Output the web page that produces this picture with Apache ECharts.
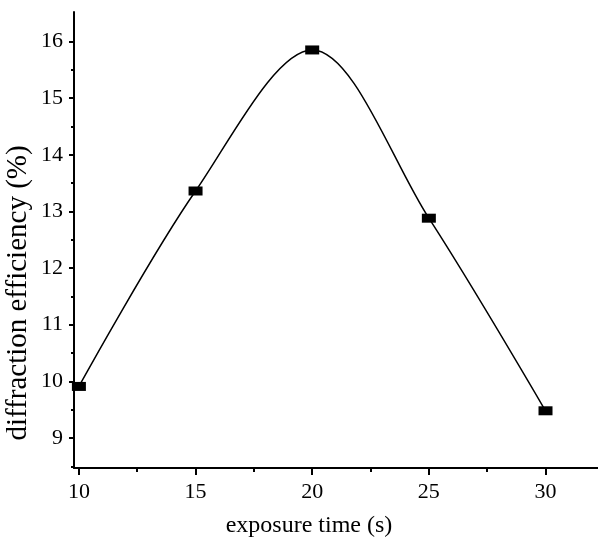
<!DOCTYPE html>
<html>
<head>
<meta charset="utf-8">
<script src="https://cdn.jsdelivr.net/npm/echarts@6/dist/echarts.min.js"></script>
<style>
  html, body { margin: 0; padding: 0; background: #fff; }
  #chart { width: 598px; height: 542px; }
</style>
</head>
<body>
<div id="chart"></div>
<script>
// exposure time (s) vs diffraction efficiency (%)
const exposureTime = [10, 15, 20, 25, 30];
const efficiency = [9.91, 13.36, 15.85, 12.88, 9.48];

const xMajorTicks = [10, 15, 20, 25, 30];
const xMinorTicks = [12.5, 17.5, 22.5, 27.5];
const yMajorTicks = [9, 10, 11, 12, 13, 14, 15, 16];
const yMinorTicks = [8.5, 9.5, 10.5, 11.5, 12.5, 13.5, 14.5, 15.5];

const FONT = '"Liberation Serif", "Times New Roman", serif';
const X_MIN = 9.79, X_MAX = 32.25;
const Y_MIN = 8.47, Y_MAX = 16.52;

const chart = echarts.init(document.getElementById('chart'));

function axisBase(extra) {
    return Object.assign({
        type: 'value',
        splitLine: { show: false },
        axisLine: { show: true, lineStyle: { color: '#000', width: 2 } },
    }, extra);
}

chart.setOption({
    animation: false,
    backgroundColor: '#fff',
    grid: { left: 74, right: 0, top: 12, bottom: 74, outerBoundsMode: 'none', containLabel: false },
    xAxis: [
        axisBase({
            position: 'bottom',
            min: X_MIN, max: X_MAX,
            name: 'exposure time (s)',
            nameLocation: 'middle',
            nameGap: 46,
            nameMoveOverlap: false,
            nameTextStyle: { fontFamily: FONT, fontSize: 24, color: '#000', padding: [0, 54, 0, 0] },
            axisTick: { show: true, customValues: xMajorTicks, length: 7, lineStyle: { color: '#000', width: 2 } },
            axisLabel: { customValues: xMajorTicks, margin: 13, fontFamily: FONT, fontSize: 22, color: '#000' },
        }),
        axisBase({
            position: 'bottom',
            min: X_MIN, max: X_MAX,
            axisLine: { show: false },
            axisTick: { show: true, customValues: xMinorTicks, length: 4, lineStyle: { color: '#000', width: 2 } },
            axisLabel: { show: false },
        }),
    ],
    yAxis: [
        axisBase({
            position: 'left',
            min: Y_MIN, max: Y_MAX,
            name: 'diffraction efficiency (%)',
            nameLocation: 'middle',
            nameRotate: 90,
            nameGap: 41,
            nameMoveOverlap: false,
            nameTextStyle: { fontFamily: FONT, fontSize: 29, color: '#000', padding: [0, 106, 0, 0] },
            axisTick: { show: true, customValues: yMajorTicks, length: 5, lineStyle: { color: '#000', width: 2 } },
            axisLabel: { customValues: yMajorTicks, margin: 11, fontFamily: FONT, fontSize: 22, color: '#000' },
        }),
        axisBase({
            position: 'left',
            min: Y_MIN, max: Y_MAX,
            axisLine: { show: false },
            axisTick: { show: true, customValues: yMinorTicks, length: 3, lineStyle: { color: '#000', width: 2 } },
            axisLabel: { show: false },
        }),
    ],
    series: [{
        type: 'line',
        smooth: 0.33,
        data: exposureTime.map((x, i) => [x, efficiency[i]]),
        symbol: 'rect',
        symbolSize: [14, 9],
        itemStyle: { color: '#000' },
        lineStyle: { color: '#000', width: 1.5 },
    }],
});
</script>
</body>
</html>
